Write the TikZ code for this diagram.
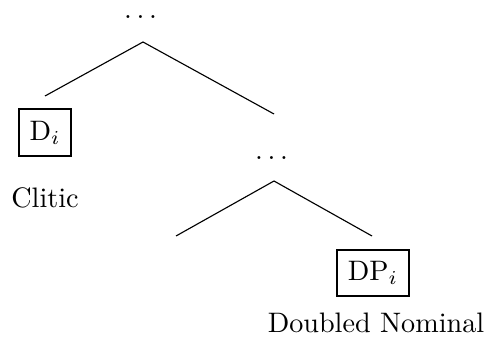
\documentclass[tikz,border=0pt]{standalone}
\usepackage{amsmath}
\usepackage{amssymb}

\tikzset{
  boxed/.style={draw, line width=0.75pt, inner xsep=3.9pt, inner ysep=4.1pt},
  branch/.style={line width=0.4pt}
}

\begin{document}
\begin{tikzpicture}[x=0.355pt,y=0.355pt,yscale=-1,xscale=1]
                \useasboundingbox (0,0) rectangle (486,349);
                %Text: top dots
                \node [anchor=base] (topdots) at (143,19) {$\dots$};
                \coordinate (top) at (143,42);
                \coordinate (topleft) at (45,96);
                \coordinate (topright) at (274,114);
                %Shape: Lines
                \draw [branch] (topleft) -- (top) -- (topright);
                %Shape: Box D_i
                \node [boxed] (clitic) at (45,132.5) {D$_i$};
                \node (cliticlabel) at (45,198) {Clitic};
                %Text: lower dots
                \node [anchor=base] (lowdots) at (274,159) {$\dots$};
                \coordinate (low) at (274,181);
                \coordinate (lowleft) at (176,236);
                \coordinate (lowright) at (372,236);
                %Shape: Lines
                \draw [branch] (lowleft) -- (low) -- (lowright);
                %Shape: Box DP_i
                \node [boxed] (nominal) at (373,273) {DP$_i$};
                \node (nominallabel) at (376,323) {Doubled Nominal};
\end{tikzpicture}
\end{document}
